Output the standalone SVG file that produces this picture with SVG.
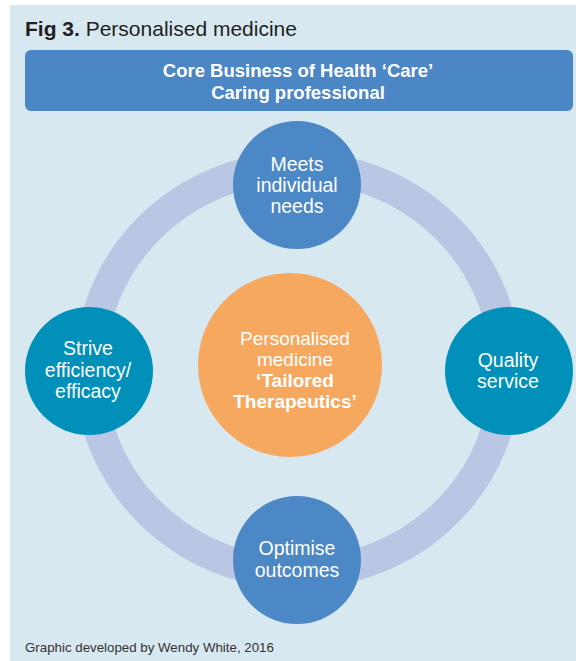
<svg xmlns="http://www.w3.org/2000/svg" width="576" height="661" viewBox="0 0 576 661">
  <style>
    text { font-family: "Liberation Sans", Arial, Helvetica, sans-serif; }
    .lbl { fill: #ffffff; font-size: 19.5px; text-anchor: middle; }
    .ctr { fill: #ffffff; font-size: 19px; text-anchor: middle; }
    .b { font-weight: bold; }
    .blue { fill: #4c87c6; }
    .teal { fill: #0090b9; }
  </style>
  <rect x="0" y="0" width="576" height="661" fill="#ffffff"/>
  <rect id="panel" x="10" y="5" width="566" height="656" fill="#d8e8f1"/>
  <text id="title" x="25" y="36" font-size="21" fill="#231f20"><tspan font-weight="bold">Fig 3.</tspan> Personalised medicine</text>
  <g id="banner">
    <rect x="25" y="50" width="548" height="61" rx="6" ry="6" fill="#4b86c5"/>
    <text x="298" y="77" font-size="18.5" font-weight="bold" fill="#ffffff" text-anchor="middle">Core Business of Health ‘Care’</text>
    <text x="298" y="99" font-size="18.5" font-weight="bold" fill="#ffffff" text-anchor="middle">Caring professional</text>
  </g>
  <g id="connectors">
    <ellipse cx="298" cy="370" rx="208" ry="203" fill="none" stroke="#b9c7e4" stroke-width="31"/>
  </g>
  <g id="node-center">
    <circle cx="290" cy="365" r="92" fill="#f7a85f"/>
    <text class="ctr" x="295" y="345">Personalised</text>
    <text class="ctr" x="295" y="366">medicine</text>
    <text class="ctr b" x="295" y="387">‘Tailored</text>
    <text class="ctr b" x="295" y="408">Therapeutics’</text>
  </g>
  <g id="node-top">
    <circle class="blue" cx="297" cy="185" r="64"/>
    <text class="lbl" x="297" y="171">Meets</text>
    <text class="lbl" x="297" y="192">individual</text>
    <text class="lbl" x="297" y="213">needs</text>
  </g>
  <g id="node-left">
    <circle class="teal" cx="89" cy="371" r="64"/>
    <text class="lbl" x="88" y="355">Strive</text>
    <text class="lbl" x="88" y="377">efficiency/</text>
    <text class="lbl" x="88" y="398">efficacy</text>
  </g>
  <g id="node-right">
    <circle class="teal" cx="509" cy="371" r="64"/>
    <text class="lbl" x="508" y="367">Quality</text>
    <text class="lbl" x="508" y="388">service</text>
  </g>
  <g id="node-bottom">
    <circle class="blue" cx="297" cy="560" r="64"/>
    <text class="lbl" x="297" y="555">Optimise</text>
    <text class="lbl" x="297" y="577">outcomes</text>
  </g>
  <text id="footer" x="25" y="652" font-size="13.3" fill="#333333">Graphic developed by Wendy White, 2016</text>
</svg>
